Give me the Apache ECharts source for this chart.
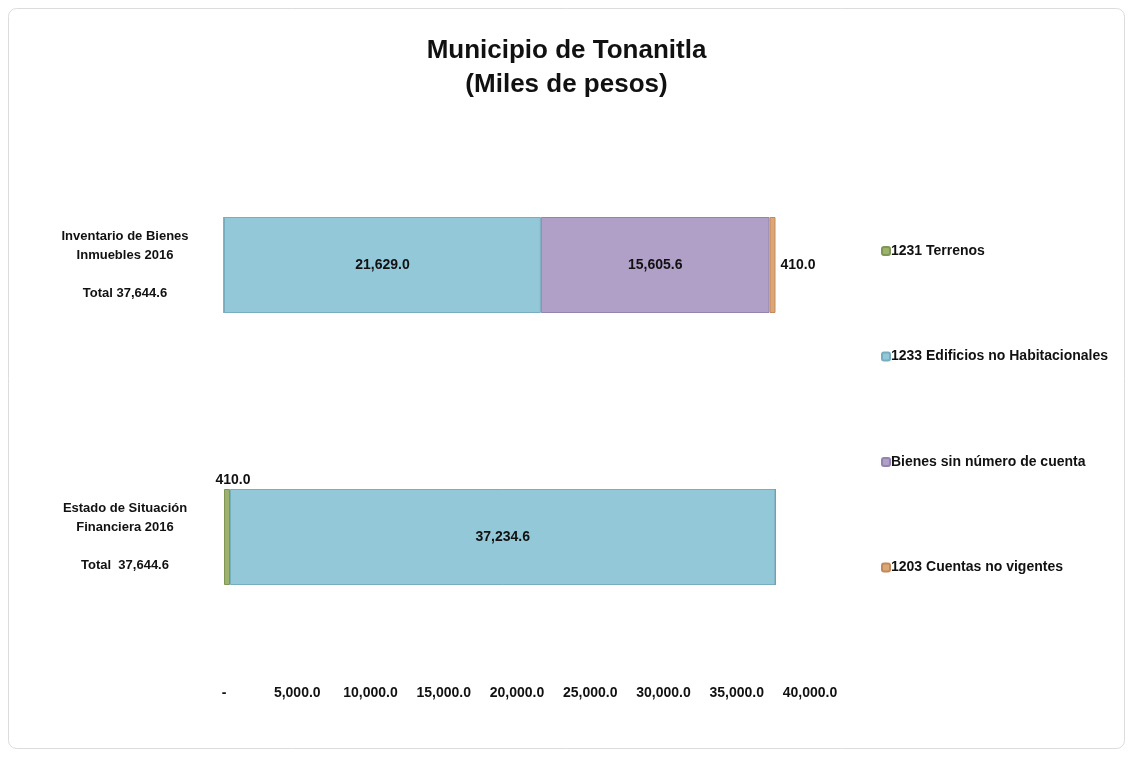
<!DOCTYPE html>
<html>
<head>
<meta charset="utf-8">
<script src="https://cdn.jsdelivr.net/npm/echarts@6/dist/echarts.min.js"></script>
<style>
	html, body { margin: 0; padding: 0; background: #fff; }
	#main { width: 1133px; height: 757px; }
</style>
</head>
<body>
<div id="main"></div>
<script type="text/javascript">
	// 数据
	var categories = [
		'Inventario de Bienes\nInmuebles 2016\n\nTotal 37,644.6',
		'Estado de Situación\nFinanciera 2016\n\nTotal  37,644.6'
	];
	var seriesNames = ['1231 Terrenos', '1233 Edificios no Habitacionales', 'Bienes sin número de cuenta', '1203 Cuentas no vigentes'];
	var terrenos = [0, 410.0];
	var edificios = [21629.0, 37234.6];
	var bienesSinCuenta = [15605.6, 0];
	var cuentasNoVigentes = [410.0, 0];
	var xTicks = [0, 40000, 5000];

	var colors = ['#9db36d', '#93c8d8', '#b09fc6', '#dca675'];
	var borders = ['#7f9655', '#76adbf', '#9483ad', '#c08a5c'];

	function fmt(v) {
		return v.toLocaleString('en-US', { minimumFractionDigits: 1, maximumFractionDigits: 1 });
	}

	function makeSeries(idx, data, labelPos, labelOffset) {
		return {
			name: seriesNames[idx],
			type: 'bar',
			stack: 'total',
			barWidth: 96,
			data: data,
			itemStyle: { color: colors[idx], borderColor: borders[idx], borderWidth: 1 },
			label: {
				show: true,
				position: labelPos,
				offset: labelOffset || [0, 0],
				color: '#111',
				fontWeight: 'bold',
				fontSize: 14,
				fontFamily: 'Liberation Sans',
				formatter: function (p) { return p.value ? fmt(p.value) : ''; }
			}
		};
	}

	var option = {
		backgroundColor: '#fff',
		animation: false,
		graphic: [{
			type: 'rect',
			shape: { x: 8.5, y: 8.5, width: 1116, height: 740, r: 8 },
			style: { fill: 'none', stroke: '#dcdcdc', lineWidth: 1 },
			silent: true
		}],
		title: {
			text: 'Municipio de Tonanitla\n(Miles de pesos)',
			left: 'center',
			top: 29,
			textStyle: {
				fontFamily: 'Liberation Sans',
				fontSize: 26,
				fontWeight: 'bold',
				color: '#111',
				lineHeight: 34
			}
		},
		legend: {
			orient: 'vertical',
			left: 876,
			top: 239,
			itemWidth: 8,
			itemHeight: 8,
			itemGap: 91.5,
			data: seriesNames,
			textStyle: { fontFamily: 'Liberation Sans', fontSize: 14, fontWeight: 'bold', color: '#111', padding: [0, 0, 0, -4] }
		},
		grid: { left: 224, width: 586, top: 129, bottom: 84 },
		xAxis: {
			type: 'value',
			min: xTicks[0],
			max: xTicks[1],
			interval: xTicks[2],
			splitLine: { show: false },
			axisLine: { show: false },
			axisTick: { show: false },
			axisLabel: {
				margin: 13,
				color: '#111',
				fontFamily: 'Liberation Sans',
				fontWeight: 'bold',
				fontSize: 14,
				formatter: function (v) { return v === 0 ? '-' : fmt(v); }
			}
		},
		yAxis: {
			type: 'category',
			inverse: true,
			data: categories,
			axisLine: { show: false },
			axisTick: { show: false },
			axisLabel: {
				margin: 99,
				align: 'center',
				color: '#111',
				fontFamily: 'Liberation Sans',
				fontWeight: 'bold',
				fontSize: 13,
				lineHeight: 19,
				padding: [0, 0, 4, 0]
			}
		},
		series: [
			makeSeries(0, terrenos, 'top', [6, 3]),
			makeSeries(1, edificios, 'inside'),
			makeSeries(2, bienesSinCuenta, 'inside'),
			makeSeries(3, cuentasNoVigentes, 'right', [0, 0])
		]
	};

	var chart = echarts.init(document.getElementById('main'));
	chart.setOption(option);
</script>
</body>
</html>
